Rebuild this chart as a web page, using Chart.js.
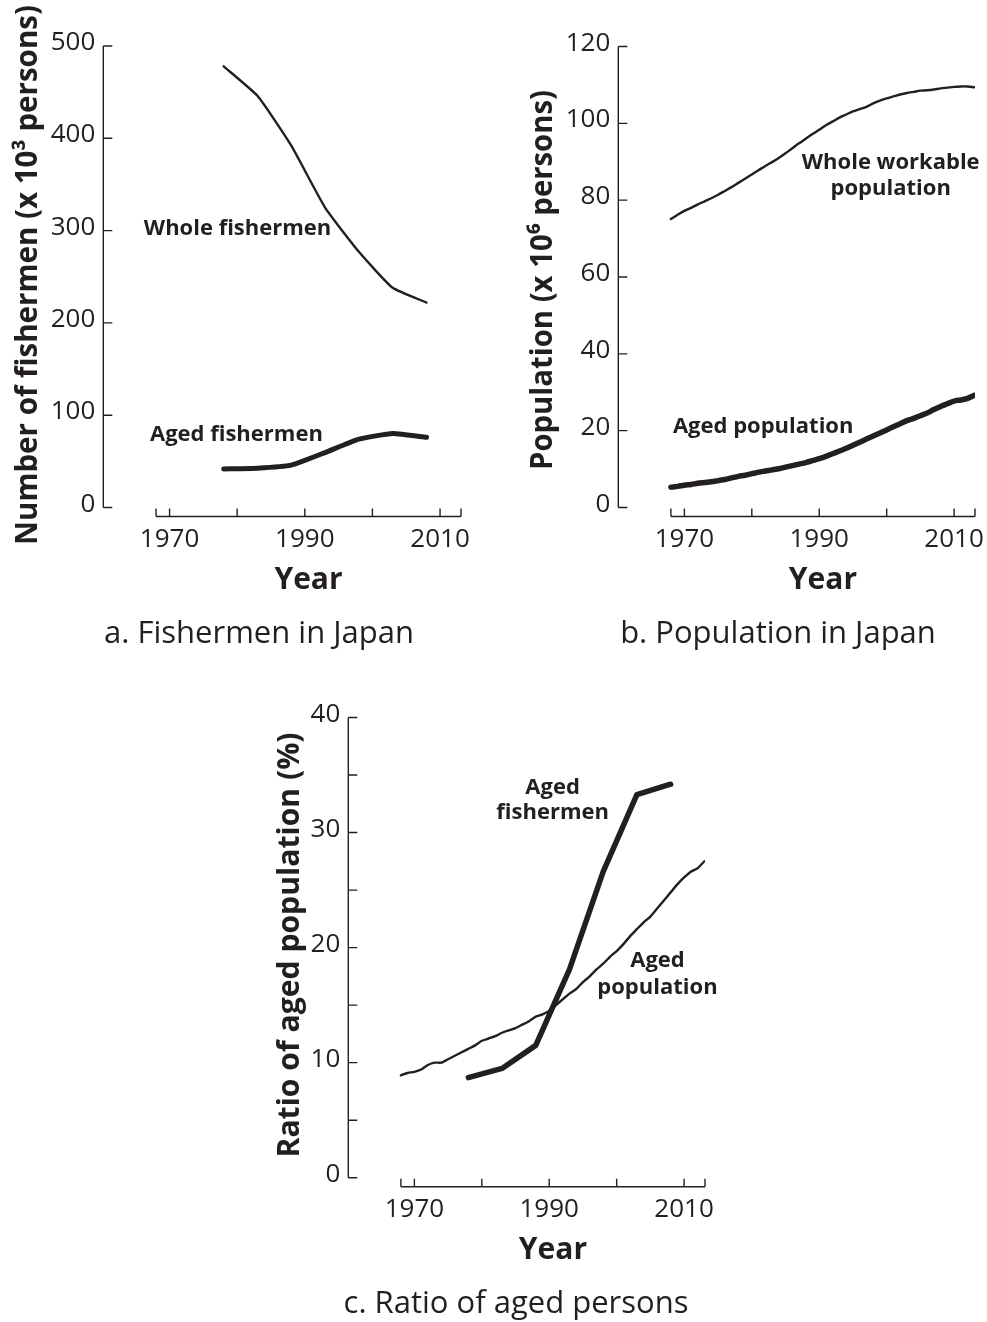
<!DOCTYPE html>
<html>
<head>
<meta charset="utf-8">
<script src="https://cdn.jsdelivr.net/npm/chart.js@4.4.1/dist/chart.umd.min.js"></script>
<style>
body { margin: 0; background: #fff; width: 987px; height: 1322px; position: relative; overflow: hidden; }
canvas { position: absolute; }
</style>
</head>
<body>
<canvas id="chartA" width="520" height="660" style="left:0px;top:0px"></canvas>
<canvas id="chartB" width="467" height="660" style="left:520px;top:0px"></canvas>
<canvas id="chartC" width="520" height="642" style="left:240px;top:680px"></canvas>
<script>
// fishery census years (a, c)
var fishYears = [1978, 1983, 1988, 1993, 1998, 2003, 2008];
var wholeFishermen = [478, 446, 392, 325, 277, 238, 222];
var agedFishermen = [41.8, 42.6, 45.9, 59.5, 74, 80.2, 76];
var agedFishermenRatio = [8.7, 9.5, 11.5, 18.1, 26.6, 33.3, 34.2];

// yearly population (b, c)
var popYears = [1968, 1969, 1970, 1971, 1972, 1973, 1974, 1975, 1976, 1977,
  1978, 1979, 1980, 1981, 1982, 1983, 1984, 1985, 1986, 1987,
  1988, 1989, 1990, 1991, 1992, 1993, 1994, 1995, 1996, 1997,
  1998, 1999, 2000, 2001, 2002, 2003, 2004, 2005, 2006, 2007,
  2008, 2009, 2010, 2011, 2012, 2013];
var workablePop = [75.1, 76.2, 77.2, 78.0, 78.9, 79.7, 80.5, 81.4, 82.4, 83.4,
  84.5, 85.6, 86.7, 87.8, 88.9, 89.9, 91.0, 92.2, 93.5, 94.8,
  96.0, 97.2, 98.3, 99.5, 100.5, 101.5, 102.3, 103.1, 103.7, 104.3,
  105.2, 105.9, 106.5, 107.0, 107.5, 107.9, 108.2, 108.5, 108.6, 108.8,
  109.1, 109.3, 109.5, 109.6, 109.6, 109.4];
var agedPop = [5.3, 5.5, 5.8, 6.0, 6.3, 6.5, 6.7, 7.0, 7.3, 7.7,
  8.1, 8.4, 8.8, 9.2, 9.5, 9.8, 10.1, 10.5, 10.9, 11.3,
  11.7, 12.2, 12.7, 13.3, 14.0, 14.7, 15.4, 16.2, 17.0, 17.8,
  18.6, 19.4, 20.2, 21.0, 21.8, 22.6, 23.2, 23.9, 24.6, 25.5,
  26.3, 27.0, 27.7, 28.0, 28.4, 29.2];
var agedPopRatio = [8.9, 9.1, 9.2, 9.4, 9.8, 10.0, 10.0, 10.3, 10.6, 10.9,
  11.2, 11.5, 11.9, 12.1, 12.3, 12.6, 12.8, 13.0, 13.3, 13.6,
  14.0, 14.2, 14.5, 15.0, 15.5, 16.0, 16.4, 17.0, 17.5, 18.1,
  18.6, 19.2, 19.7, 20.3, 21.0, 21.6, 22.2, 22.7, 23.4, 24.1,
  24.8, 25.5, 26.1, 26.6, 26.9, 27.5];

// axes
var xMin = 1960.2, xMax = 2013.1, xAxisStart = 1968;
var yearTicks = [1970, 1980, 1990, 2000, 2010];
var yearLabels = [1970, 1990, 2010];
var fishTicks = [0, 100, 200, 300, 400, 500];
var popTicks = [0, 20, 40, 60, 80, 100, 120];
var ratioTicks = [0, 10, 20, 30, 40];
var ratioMinor = [5, 15, 25, 35];

var ink = '#231f20';
var FONT = '"Open Sans", "Noto Sans", sans-serif';

function pts(xs, ys) {
  return xs.map(function (x, i) { return { x: x, y: ys[i] }; });
}

function line(data, w, tension) {
  return {
    data: data, borderColor: ink, borderWidth: w, pointRadius: 0,
    tension: tension, fill: false, borderJoinStyle: 'round', borderCapStyle: 'round'
  };
}

function decor(o) {
  return {
    id: 'decor',
    afterDatasetsDraw: function (chart) {
      var ctx = chart.ctx, a = chart.chartArea, xs = chart.scales.x, ys = chart.scales.y;
      ctx.save();
      ctx.strokeStyle = ink;
      ctx.fillStyle = ink;
      ctx.lineWidth = 1.4;
      ctx.beginPath();
      // y axis with inward ticks
      ctx.moveTo(a.left, ys.getPixelForValue(ys.max));
      ctx.lineTo(a.left, ys.getPixelForValue(0));
      o.yTicks.concat(o.yMinor || []).forEach(function (v) {
        var p = ys.getPixelForValue(v);
        ctx.moveTo(a.left, p); ctx.lineTo(a.left + 9, p);
      });
      // detached x axis
      var xb = a.bottom + 9;
      ctx.moveTo(xs.getPixelForValue(xAxisStart), xb);
      ctx.lineTo(xs.getPixelForValue(xMax), xb);
      [xAxisStart].concat(yearTicks, [xMax]).forEach(function (v) {
        var p = xs.getPixelForValue(v);
        ctx.moveTo(p, xb); ctx.lineTo(p, xb - 8);
      });
      ctx.stroke();

      ctx.font = '26px ' + FONT;
      ctx.textAlign = 'right';
      ctx.textBaseline = 'alphabetic';
      o.yTicks.forEach(function (v) {
        ctx.fillText(String(v), a.left - 8, ys.getPixelForValue(v) + 4);
      });
      ctx.textAlign = 'center';
      yearLabels.forEach(function (v) {
        ctx.fillText(String(v), xs.getPixelForValue(v), xb + 30);
      });

      var xc = (xs.getPixelForValue(xAxisStart) + xs.getPixelForValue(xMax)) / 2;
      ctx.font = 'bold 30px ' + FONT;
      ctx.fillText('Year', xc, a.bottom + 81);

      ctx.font = '31px ' + FONT;
      ctx.fillText(o.sub, o.subX, a.bottom + 135);

      // rotated y title, fitted to its length
      ctx.save();
      ctx.translate(o.tx, o.ty);
      ctx.rotate(-Math.PI / 2);
      ctx.font = 'bold 30px ' + FONT;
      ctx.textBaseline = 'middle';
      var w = ctx.measureText(o.title).width;
      ctx.scale(o.tlen / w, 1);
      ctx.fillText(o.title, 0, 0);
      ctx.restore();

      ctx.font = 'bold 22px ' + FONT;
      ctx.textBaseline = 'middle';
      o.notes.forEach(function (n) {
        ctx.textAlign = n.align;
        ctx.fillText(n.text, xs.getPixelForValue(n.x), ys.getPixelForValue(n.y));
      });
      ctx.restore();
    }
  };
}

function makeChart(id, datasets, yMax, pad, o) {
  return new Chart(document.getElementById(id), {
    type: 'line',
    data: { datasets: datasets },
    options: {
      responsive: false,
      animation: false,
      devicePixelRatio: 1,
      layout: { padding: pad },
      scales: {
        x: { type: 'linear', min: xMin, max: xMax, display: false },
        y: { type: 'linear', min: 0, max: yMax, display: false }
      },
      plugins: { legend: { display: false }, tooltip: { enabled: false } }
    },
    plugins: [decor(o)]
  });
}

makeChart('chartA', [
  line(pts(fishYears, wholeFishermen), 2.4, 0.15),
  line(pts(fishYears, agedFishermen), 5, 0.15)
], 500, { left: 103.3, right: 59, top: 46, bottom: 152.5 }, {
  yTicks: fishTicks,
  title: 'Number of fishermen (x 10\u00b3 persons)', tx: 28, ty: 275, tlen: 540,
  sub: 'a. Fishermen in Japan', subX: 259,
  notes: [
    { text: 'Whole fishermen', x: 1966.2, y: 302, align: 'left' },
    { text: 'Aged fishermen', x: 1967.1, y: 79, align: 'left' }
  ]
});

makeChart('chartB', [
  line(pts(popYears, workablePop), 2.4, 0.3),
  line(pts(popYears, agedPop), 5.5, 0.3)
], 120, { left: 98.3, right: 12, top: 46.5, bottom: 152.5 }, {
  yTicks: popTicks,
  title: 'Population (x 10\u2076 persons)', tx: 23, ty: 280, tlen: 380,
  sub: 'b. Population in Japan', subX: 258,
  notes: [
    { text: 'Whole workable', x: 2000.6, y: 89.8, align: 'center' },
    { text: 'population', x: 2000.6, y: 82.9, align: 'center' },
    { text: 'Aged population', x: 1968.3, y: 21, align: 'left' }
  ]
});

makeChart('chartC', [
  line(pts(popYears, agedPopRatio), 2.4, 0.2),
  line(pts(fishYears, agedFishermenRatio), 5.5, 0)
], 40, { left: 108.3, right: 55, top: 37.5, bottom: 144.3 }, {
  yTicks: ratioTicks, yMinor: ratioMinor,
  title: 'Ratio of aged population (%)', tx: 50, ty: 265, tlen: 425,
  sub: 'c. Ratio of aged persons', subX: 276,
  notes: [
    { text: 'Aged', x: 1990.5, y: 33.9, align: 'center' },
    { text: 'fishermen', x: 1990.5, y: 31.7, align: 'center' },
    { text: 'Aged', x: 2006.05, y: 18.86, align: 'center' },
    { text: 'population', x: 2006.05, y: 16.5, align: 'center' }
  ]
});
</script>
</body>
</html>
